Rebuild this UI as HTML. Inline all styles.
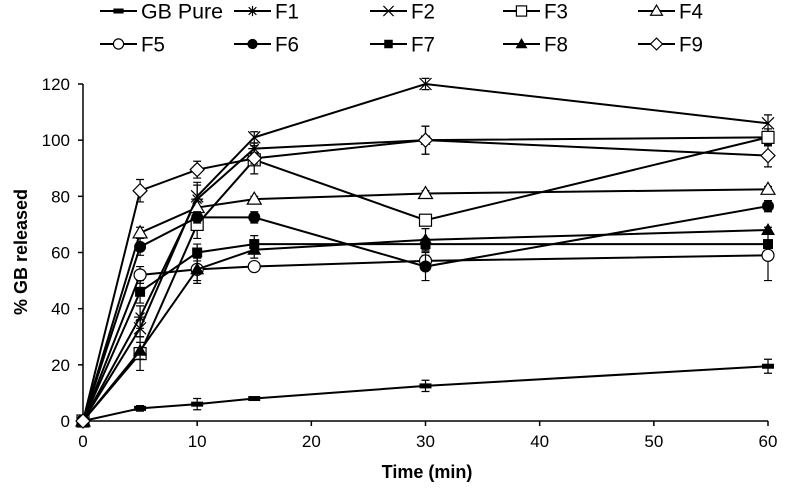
<!DOCTYPE html>
<html><head><meta charset="utf-8"><style>
body{margin:0;background:#fff}
svg{display:block;font-family:"Liberation Sans",Arial,sans-serif}
</style></head><body>
<svg id="c" width="785" height="491"></svg>
<script>
const times=[0,5,10,15,30,60];
const seriesNames=["GB Pure","F1","F2","F3","F4","F5","F6","F7","F8","F9"];
const gbPure=[0,4.5,6,8,12.5,19.5];
const f1=[0,37,79,97,100,101];
const f2=[0,33,80,101,120,106];
const f3=[0,24,70,93,71.5,101];
const f4=[0,67,76,79,81,82.5];
const f5=[0,52,54,55,57,59];
const f6=[0,62,72.5,72.5,55,76.5];
const f7=[0,46,60,63,63,63];
const f8=[0,25,54,61,64.5,68];
const f9=[0,82,89.5,93.5,100,94.5];
const errs=[[0,1,2,0.5,2,2.5],[0,4,6,2,5,3],[0,3,4,2,2,3],[0,6,5,5,2,3],[0,2,2,1,1,1],[0,3,5,1,2,9],[0,3,2,2,5,2],[0,4,3,3,2,1],[0,3,4,3,4,1],[0,4,3,2,5,4]];
const yTicks=[0,20,40,60,80,100,120];
const xTicks=[0,10,20,30,40,50,60];
const allData=[gbPure,f1,f2,f3,f4,f5,f6,f7,f8,f9];
const markers=["bar","star","x","sq","tri","circ","fcirc","fsq","ftri","dia"];
const X=v=>83+v*(768-83)/60, Y=v=>421-v*(421-84)/120;
const NS="http://www.w3.org/2000/svg", svg=document.getElementById('c');
function el(t,a,p){const e=document.createElementNS(NS,t);for(const k in a)e.setAttribute(k,a[k]);(p||svg).appendChild(e);return e;}
function marker(type,x,y,g,k){
 k=k||1;
 const s={stroke:'#000','stroke-width':1.2};
 if(type=="bar")return el('rect',{x:x-6*k,y:y-2.5,width:12*k,height:5,fill:'#000'},g);
 if(type=="star"){el('path',Object.assign({d:`M${x-6*k} ${y}H${x+6*k}M${x} ${y-6*k}V${y+6*k}M${x-4.5*k} ${y-4.5*k}L${x+4.5*k} ${y+4.5*k}M${x-4.5*k} ${y+4.5*k}L${x+4.5*k} ${y-4.5*k}`,fill:'none'},s),g);return;}
 if(type=="x"){el('path',Object.assign({d:`M${x-6*k} ${y-6*k}L${x+6*k} ${y+6*k}M${x-6*k} ${y+6*k}L${x+6*k} ${y-6*k}`,fill:'none'},s),g);return;}
 if(type=="sq")return el('rect',Object.assign({x:x-6*k,y:y-6*k,width:12*k,height:12*k,fill:'#fff'},s),g);
 if(type=="fsq")return el('rect',{x:x-5*k,y:y-5*k,width:10*k,height:10*k,fill:'#000'},g);
 if(type=="tri")return el('polygon',Object.assign({points:`${x},${y-7*k} ${x-7*k},${y+5*k} ${x+7*k},${y+5*k}`,fill:'#fff'},s),g);
 if(type=="ftri")return el('polygon',{points:`${x},${y-7*k} ${x-7*k},${y+5*k} ${x+7*k},${y+5*k}`,fill:'#000'},g);
 if(type=="circ")return el('circle',Object.assign({cx:x,cy:y,r:6*k,fill:'#fff'},s),g);
 if(type=="fcirc")return el('circle',{cx:x,cy:y,r:6*k,fill:'#000'},g);
 if(type=="dia")return el('polygon',Object.assign({points:`${x},${y-7*k} ${x+7*k},${y} ${x},${y+7*k} ${x-7*k},${y}`,fill:'#fff'},s),g);
}
const ax=el('g',{});


el('path',{d:`M83 84V421H768`,stroke:'#000','stroke-width':1.5,fill:'none'},ax);
yTicks.forEach(t=>{el('line',{x1:78,x2:83,y1:Y(t),y2:Y(t),stroke:'#000','stroke-width':1.5},ax);
 const tx=el('text',{x:70,y:Y(t)+6,'text-anchor':'end','font-size':17},ax);tx.textContent=t;
 });
xTicks.forEach(t=>{el('line',{x1:X(t),x2:X(t),y1:421,y2:426,stroke:'#000','stroke-width':1.5},ax);
 const tx=el('text',{x:X(t),y:447,'text-anchor':'middle','font-size':17},ax);tx.textContent=t;
 });
const xt=el('text',{x:427,y:478,'text-anchor':'middle','font-size':18,'font-weight':'bold'});xt.textContent="Time (min)";

const yt=el('text',{x:0,y:0,'text-anchor':'middle','font-size':18,'font-weight':'bold',transform:'translate(27,252) rotate(-90)'});yt.textContent="% GB released";

allData.forEach((d,i)=>{
 const g=el('g',{});
 
 
 el('polyline',{points:d.map((v,j)=>X(times[j])+','+Y(v)).join(' '),fill:'none',stroke:'#000','stroke-width':2},g);
 d.forEach((v,j)=>{const e=errs[i][j];if(e>0){const x=X(times[j]);
  el('path',{d:`M${x} ${Y(v+e)}V${Y(v-e)}M${x-4} ${Y(v+e)}H${x+4}M${x-4} ${Y(v-e)}H${x+4}`,stroke:'#000','stroke-width':1.2,fill:'none'},g);}
  marker(markers[i],X(times[j]),Y(v),g);});
});
const lx=[100,234,370,503,638];
seriesNames.forEach((n,i)=>{
 const x=lx[i%5], y=i<5?11:44;
 const g=el('g',{});
 
 
 el('line',{x1:x,x2:x+37,y1:y,y2:y,stroke:'#000','stroke-width':2},g);
 marker(markers[i],x+18.5,y,g,0.85);
 const t=el('text',{x:x+41,y:y+7.5,'font-size':21,textLength:n.length>2?82:24,lengthAdjust:'spacingAndGlyphs'},g);t.textContent=n;
});
</script>
</body></html>
